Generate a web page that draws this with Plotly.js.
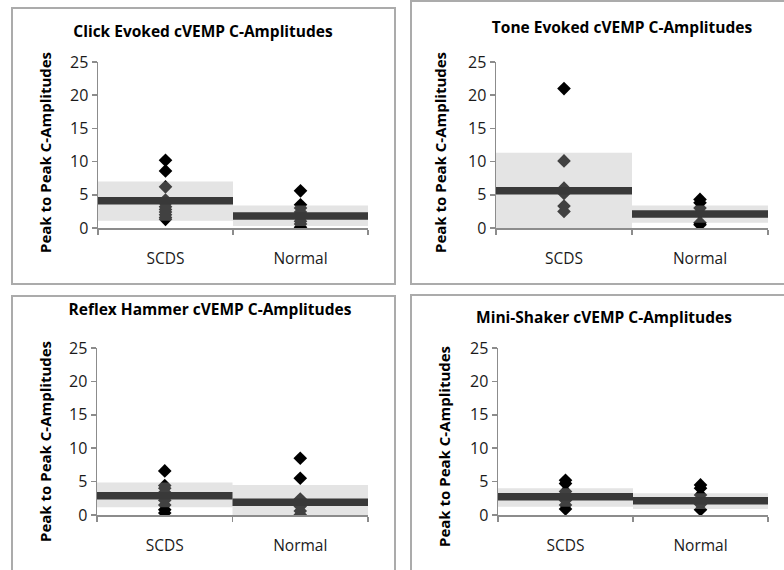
<!DOCTYPE html>
<html>
<head>
<meta charset="utf-8">
<script src="https://cdn.plot.ly/plotly-3.0.1.min.js"></script>
<style>
  html, body { margin:0; padding:0; width:784px; height:570px; overflow:hidden; background:#fff; }
  .plot { position:absolute; }
  .frame { position:absolute; border:2px solid #ababab; box-sizing:border-box; pointer-events:none; }
</style>
</head>
<body>
<div id="p1" class="plot"></div>
<div id="p2" class="plot"></div>
<div id="p3" class="plot"></div>
<div id="p4" class="plot"></div>
<div id="f1" class="frame"></div>
<div id="f2" class="frame"></div>
<div id="f3" class="frame"></div>
<div id="f4" class="frame"></div>
<script>
// ---------- data ----------
const categories = ['SCDS', 'Normal'];
const yTitle = 'Peak to Peak C-Amplitudes';
const yTicks = [0, 5, 10, 15, 20, 25];

const clickTitle = 'Click Evoked cVEMP C-Amplitudes';
const clickSCDS = [10.2, 8.6, 6.2, 4.2, 3.7, 3.2, 2.8, 2.4, 2.0, 1.6, 1.3];
const clickNormal = [5.6, 3.5, 3.0, 2.4, 2.0, 1.5, 1.0, 0.6, 0.1];
const clickMean = [4.1, 1.8];
const clickLow = [1.1, 0.3];
const clickHigh = [7.0, 3.4];

const toneTitle = 'Tone Evoked cVEMP C-Amplitudes';
const toneSCDS = [21.0, 10.1, 6.0, 5.2, 3.3, 2.5];
const toneNormal = [4.3, 3.8, 3.0, 2.3, 0.8, 0.5];
const toneMean = [5.6, 2.1];
const toneLow = [0.0, 0.8];
const toneHigh = [11.35, 3.4];

const hammerTitle = 'Reflex Hammer cVEMP C-Amplitudes';
const hammerSCDS = [6.6, 4.4, 4.0, 3.4, 2.8, 2.2, 1.5, 0.8, 0.3];
const hammerNormal = [8.5, 5.5, 2.4, 2.0, 1.3, 0.6, 0.05];
const hammerMean = [2.9, 1.9];
const hammerLow = [1.15, 0.0];
const hammerHigh = [4.85, 4.5];

const shakerTitle = 'Mini-Shaker cVEMP C-Amplitudes';
const shakerSCDS = [5.2, 4.7, 3.5, 2.7, 2.2, 1.5, 0.9];
const shakerNormal = [4.5, 4.0, 3.0, 2.2, 1.6, 0.8];
const shakerMean = [2.75, 2.15];
const shakerLow = [1.25, 0.9];
const shakerHigh = [4.0, 3.25];

// ---------- layout helpers ----------
const FONT = '"Open Sans", "Liberation Sans", sans-serif';

function makePanel(id, frameId, box, m, titlePos, yTitlePos, title, groups, mean, low, high) {
  const el = document.getElementById(id);
  el.style.left = box.left + 'px'; el.style.top = box.top + 'px';
  el.style.width = box.w + 'px'; el.style.height = box.h + 'px';
  const fr = document.getElementById(frameId);
  fr.style.left = box.left + 'px'; fr.style.top = box.top + 'px';
  fr.style.width = box.w + 'px'; fr.style.height = box.h + 'px';

  const pw = box.w - m.l - m.r, ph = box.h - m.t - m.b;
  const traces = [];
  // diamonds
  groups.forEach((vals, i) => {
    traces.push({
      type: 'scatter', mode: 'markers',
      x: vals.map(() => i), y: vals,
      marker: { symbol: 'diamond', size: 10.5, color: '#000' },
      hoverinfo: 'y', showlegend: false
    });
  });
  // translucent bands (drawn over the diamonds)
  categories.forEach((c, i) => {
    traces.push({
      type: 'scatter', mode: 'lines', fill: 'toself',
      x: [i - 0.5, i + 0.5, i + 0.5, i - 0.5, i - 0.5],
      y: [low[i], low[i], high[i], high[i], low[i]],
      line: { width: 0 }, fillcolor: 'rgba(181,181,181,0.36)',
      hoverinfo: 'skip', showlegend: false
    });
  });
  // mean lines
  categories.forEach((c, i) => {
    traces.push({
      type: 'scatter', mode: 'lines',
      x: [i - 0.5, i + 0.5], y: [mean[i], mean[i]],
      line: { width: 7.5, color: '#393939' },
      hoverinfo: 'y', showlegend: false
    });
  });

  const layout = {
    width: box.w, height: box.h,
    margin: { l: m.l, r: m.r, t: m.t, b: m.b, pad: 0 },
    paper_bgcolor: 'rgba(0,0,0,0)', plot_bgcolor: 'rgba(0,0,0,0)',
    font: { family: FONT, size: 15, color: '#1a1a1a' },
    showlegend: false,
    title: {
      text: '<b>' + title + '</b>',
      font: { family: FONT, size: 15.5, color: '#000' },
      xref: 'container', yref: 'container',
      x: titlePos[0] / box.w, y: 1 - titlePos[1] / box.h,
      xanchor: 'center', yanchor: 'middle'
    },
    xaxis: {
      range: [-0.5, 1.5], fixedrange: true,
      tickmode: 'array', tickvals: categories.map((c, i) => i), ticktext: categories,
      ticks: '', ticklabelstandoff: 16,
      minor: { tickmode: 'linear', tick0: -0.5, dtick: 1, ticks: 'outside', ticklen: 5, tickwidth: 1.5, tickcolor: '#8c8c8c', showgrid: false },
      showline: true, linecolor: '#8c8c8c', linewidth: 1.5,
      showgrid: false, zeroline: false,
      tickfont: { family: FONT, size: 15.5, color: '#1a1a1a' }
    },
    yaxis: {
      range: [0, 25], fixedrange: true,
      tickmode: 'array', tickvals: yTicks,
      ticks: 'outside', ticklen: 5, tickwidth: 1.5, tickcolor: '#8c8c8c',
      showline: true, linecolor: '#8c8c8c', linewidth: 1.5,
      showgrid: false, zeroline: false,
      tickfont: { family: FONT, size: 16, color: '#1a1a1a' }
    },
    annotations: [{
      text: '<b>' + yTitle + '</b>',
      xref: 'paper', yref: 'paper',
      x: (yTitlePos[0] - m.l) / pw, y: (m.t + ph - yTitlePos[1]) / ph,
      xanchor: 'center', yanchor: 'middle', textangle: -90, showarrow: false,
      font: { family: FONT, size: 15, color: '#000' }
    }]
  };
  Plotly.newPlot(id, traces, layout, { staticPlot: true, displayModeBar: false });
}

makePanel('p1', 'f1', { left: 11, top: 7, w: 385, h: 278 }, { l: 87, r: 28, t: 55, b: 57 },
  [203 - 11, 32 - 7], [45 - 11, 153 - 7], clickTitle, [clickSCDS, clickNormal], clickMean, clickLow, clickHigh);
makePanel('p2', 'f2', { left: 410, top: 0, w: 380, h: 285 }, { l: 86, r: 22, t: 62, b: 57 },
  [212, 28], [30, 153], toneTitle, [toneSCDS, toneNormal], toneMean, toneLow, toneHigh);
makePanel('p3', 'f3', { left: 11, top: 295, w: 385, h: 290 }, { l: 86, r: 28, t: 53, b: 70 },
  [199, 15], [34, 147], hammerTitle, [hammerSCDS, hammerNormal], hammerMean, hammerLow, hammerHigh);
makePanel('p4', 'f4', { left: 410, top: 294, w: 380, h: 290 }, { l: 88, r: 22, t: 54, b: 69 },
  [194, 24], [34, 153], shakerTitle, [shakerSCDS, shakerNormal], shakerMean, shakerLow, shakerHigh);
</script>
</body>
</html>
